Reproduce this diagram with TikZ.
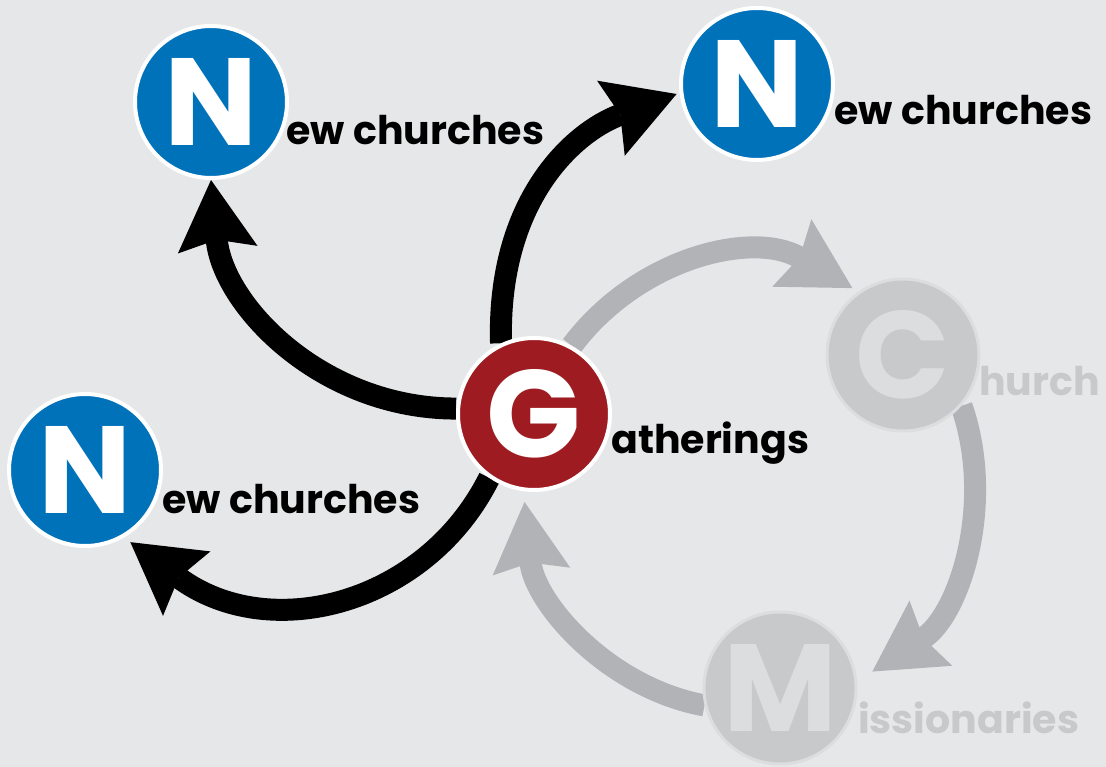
\documentclass[tikz,border=0pt]{standalone}
\usepackage{fontspec}
\setmainfont{Poppins}
\usetikzlibrary{arrows.meta}
\pgfdeclarelayer{backlayer}
\pgfdeclarelayer{arrowlayer}
\pgfsetlayers{backlayer,arrowlayer,main}
\definecolor{bgc}{HTML}{E6E7E8}
\definecolor{nblue}{HTML}{0072BA}
\definecolor{gred}{HTML}{9E1C21}
\definecolor{arrgray}{HTML}{B1B3B6}
\definecolor{cfill}{HTML}{C8C9CB}
\definecolor{cring}{HTML}{DCDDDF}
\definecolor{cletter}{HTML}{DCDDDF}
\tikzset{
  bigcirc/.style={circle, minimum size=152pt, inner sep=0pt, line width=4pt, draw=white, text=white,
    font=\fontsize{124}{130}\selectfont\bfseries},
  nnode/.style={bigcirc, fill=nblue},
  gnode/.style={bigcirc, fill=gred},
  fadenode/.style={bigcirc, fill=cfill, draw=cring, text=cletter, line width=3pt},
  lbl/.style={anchor=base west, inner sep=0pt, text=black, font=\fontsize{39.5}{48}\selectfont\bfseries},
  fadelbl/.style={lbl, text=cfill},
  blackarrow/.style={line width=22pt, draw=black,
    -{Stealth[length=70pt, width=80pt, inset=10pt, line width=0pt]}},
  grayarrow/.style={line width=22pt, draw=arrgray,
    -{Stealth[length=70pt, width=78pt, inset=9pt, line width=0pt]}},
}
\begin{document}
\begin{tikzpicture}[x=1pt,y=-1pt]
\useasboundingbox (0,0) rectangle (1106,767);
\begin{pgfonlayer}{backlayer}
\fill[bgc] (0,0) rectangle (1106,767);
\end{pgfonlayer}
% nodes
\node[nnode] (N1) at (211,102) {N};
\node[nnode] (N2) at (757,84) {N};
\node[nnode] (N3) at (85,470) {N};
\node[gnode] (G) at (534,414) {G};
\node[fadenode] (C) at (903,355) {C};
\node[fadenode] (M) at (780,688) {M};
% labels
\node[lbl] (lN1) at (286,145) {ew churches};
\node[lbl] (lN2) at (834,125) {ew churches};
\node[lbl] (lN3) at (162,513) {ew churches};
\node[lbl] (lG) at (611,453) {atherings};
\node[fadelbl] (lC) at (979,395) {hurch};
\node[fadelbl] (lM) at (858,733) {issionaries};
% connectors
\begin{pgfonlayer}{arrowlayer}
\draw[grayarrow] (G.61) .. controls +(66,-88) and +(-100,-58) .. ([shift={(-4,-5)}]C.127);
\draw[grayarrow] (C.-41) .. controls +(34,98) and +(87,-57) .. ([shift={(16,-3)}]M.10);
\draw[grayarrow] (M.193) .. controls +(-98,-18) and +(10,100) .. ([shift={(0,10.5)}]G.263);
\draw[blackarrow] (G.176) .. controls +(-135,0) and +(12,125) .. (N1.270);
\draw[blackarrow] (G.115) .. controls +(-4,-143) and +(-103,38) .. ([shift={(-3,0.5)}]N2.187);
\draw[blackarrow] (G.235) .. controls +(-63,126) and +(140,103) .. ([shift={(4,6)}]N3.-58);
\end{pgfonlayer}
\end{tikzpicture}
\end{document}
